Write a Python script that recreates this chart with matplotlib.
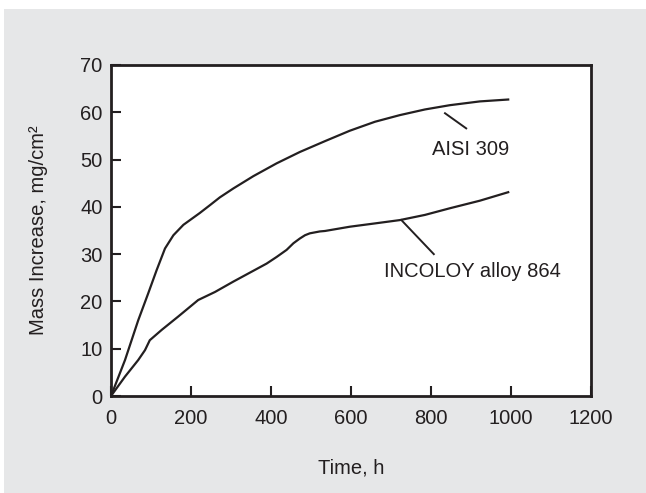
import matplotlib
matplotlib.use("Agg")
import matplotlib.pyplot as plt
from matplotlib.patches import Rectangle

plt.rcParams["font.family"] = ["Liberation Sans", "DejaVu Sans"]

# values
aisi_t = [0, 35, 68, 93, 114, 135, 156, 181, 222, 248, 272, 306, 356, 414,
          472, 535, 597, 660, 722, 785, 847, 922, 993]
aisi_m = [0, 7.6, 16.0, 21.7, 26.6, 31.2, 34.0, 36.2, 38.7, 40.4, 42.0, 43.9,
          46.5, 49.2, 51.6, 53.9, 56.1, 58.0, 59.4, 60.6, 61.5, 62.3, 62.7]

inc_t = [0, 35, 68, 85, 97, 127, 168, 218, 260, 306, 389, 414, 439, 456,
         472, 485, 497, 522, 535, 597, 660, 722, 785, 847, 922, 993]
inc_m = [0, 4.1, 7.6, 9.7, 11.8, 14.0, 16.8, 20.3, 22.0, 24.2, 28.0, 29.4,
         30.9, 32.3, 33.3, 34.0, 34.4, 34.8, 34.9, 35.8, 36.5, 37.2, 38.3,
         39.7, 41.3, 43.1]

labels = ["AISI 309", "INCOLOY alloy 864"]
label_xy = [(898, 52.2), (904, 26.4)]
leader_start = [(835, 59.8), (726, 37.2)]
leader_end = [(888, 56.6), (807, 30.0)]

x_ticks = [0, 200, 400, 600, 800, 1000, 1200]
y_ticks = [0, 10, 20, 30, 40, 50, 60, 70]

ink = "#231f20"
W, H = 646, 493
fs = 14.5

fig = plt.figure(figsize=(W / 100, H / 100), dpi=100, facecolor="white")
fig.patches.append(Rectangle((4 / W, 0), 1, (H - 9) / H, transform=fig.transFigure,
                             facecolor="#e6e7e8", edgecolor="none", zorder=-5))

ax = fig.add_axes([111 / W, 1 - 396 / H, 480 / W, 331 / H])
ax.set_facecolor("white")

ax.plot(aisi_t, aisi_m, color=ink, lw=1.6, solid_joinstyle="round")
ax.plot(inc_t, inc_m, color=ink, lw=1.6, solid_joinstyle="round")

for lab, (tx, ty), s, e in zip(labels, label_xy, leader_start, leader_end):
    ax.plot([s[0], e[0]], [s[1], e[1]], color=ink, lw=1.4)
    ax.text(tx, ty, lab, ha="center", va="center", fontsize=fs, color=ink)

ax.set_xlim(0, 1200)
ax.set_ylim(0, 70)
ax.set_xticks(x_ticks)
ax.set_yticks(y_ticks)
ax.tick_params(direction="in", length=7, width=1.5, colors=ink, labelsize=fs,
               top=False, right=False)
ax.tick_params(axis="x", pad=9)
ax.tick_params(axis="y", pad=6)
for sp in ax.spines.values():
    sp.set_linewidth(2)
    sp.set_color(ink)

ax.set_xlabel("Time, h", fontsize=fs, color=ink)
ax.set_ylabel("Mass Increase, mg/cm²", fontsize=fs, color=ink)
ax.xaxis.set_label_coords(0.5, -(468 - 396) / 331)
ax.yaxis.set_label_coords(-(111 - 38) / 480, 0.5)
ax.xaxis.label.set_va("center")
ax.yaxis.label.set_va("center")

fig.savefig("out.png", dpi=100, facecolor=fig.get_facecolor())
